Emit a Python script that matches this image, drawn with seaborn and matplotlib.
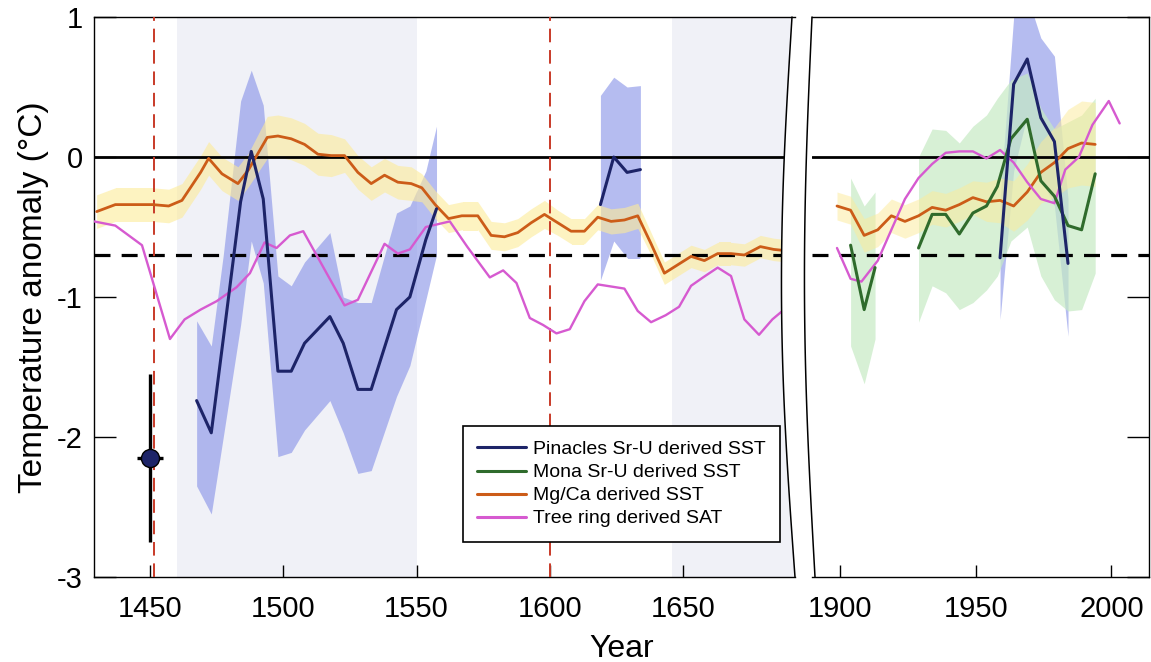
import numpy as np
import pandas as pd
import matplotlib
matplotlib.use("Agg")
import matplotlib.pyplot as plt
import seaborn as sns
from matplotlib.lines import Line2D
from matplotlib.patches import Polygon

# ---------------- data ----------------
# Pinacles Sr-U derived SST (navy) with uncertainty band
pin1_year = [1467.5, 1473, 1477.5, 1484, 1488, 1492.5, 1498, 1503, 1508, 1517.5,
             1522.5, 1528, 1533, 1542.5, 1547.5, 1553.5, 1557.5]
pin1_val = [-1.74, -1.97, -1.30, -0.32, 0.04, -0.30, -1.53, -1.53, -1.33, -1.14,
            -1.33, -1.66, -1.66, -1.09, -1.00, -0.59, -0.37]
pin1_hi = [-1.17, -1.35, -0.70, 0.40, 0.62, 0.37, -0.85, -0.92, -0.75, -0.54,
           -1.00, -1.04, -1.04, -0.40, -0.35, -0.10, 0.22]
pin1_lo = [-2.35, -2.55, -2.00, -1.20, -0.60, -0.90, -2.14, -2.11, -1.95, -1.74,
           -1.97, -2.26, -2.24, -1.71, -1.49, -1.02, -0.70]

pin2_year = [1619, 1624, 1629, 1634]
pin2_val = [-0.34, 0.00, -0.11, -0.09]
pin2_hi = [0.44, 0.57, 0.50, 0.51]
pin2_lo = [-0.88, -0.60, -0.72, -0.72]

pin3_year = [1959, 1964, 1969, 1974, 1979, 1984]
pin3_val = [-0.72, 0.52, 0.70, 0.28, 0.11, -0.76]
pin3_hi = [-0.30, 1.00, 1.15, 0.85, 0.72, -0.30]
pin3_lo = [-1.16, -0.10, 0.30, -0.15, -0.35, -1.28]

# Mona Sr-U derived SST (green)
mona1_year = [1904, 1909, 1913]
mona1_val = [-0.63, -1.09, -0.79]
mona1_hi = [-0.15, -0.35, -0.25]
mona1_lo = [-1.35, -1.62, -1.30]

mona2_year = [1929, 1934, 1939, 1944, 1949, 1954, 1958, 1963, 1969, 1974, 1979, 1984, 1989, 1994]
mona2_val = [-0.65, -0.41, -0.41, -0.55, -0.40, -0.35, -0.21, 0.13, 0.27, -0.17, -0.28, -0.49, -0.52, -0.12]
mona2_hi = [0.00, 0.20, 0.19, 0.10, 0.22, 0.30, 0.42, 0.55, 0.60, 0.35, 0.20, 0.25, 0.30, 0.42]
mona2_lo = [-1.18, -0.92, -0.97, -1.09, -1.04, -0.95, -0.85, -0.60, -0.50, -0.85, -1.02, -1.10, -1.09, -0.83]

# Mg/Ca derived SST (orange) with half-width of band
mgca1_year = [1430, 1437, 1451, 1457, 1462, 1469, 1472, 1477, 1483, 1487,
              1494, 1498, 1503, 1508, 1513, 1518, 1523, 1528, 1533, 1538,
              1543, 1548, 1552, 1557, 1562, 1567, 1573, 1578, 1583, 1588,
              1593, 1598, 1603, 1608, 1613, 1618, 1623, 1628, 1633, 1638,
              1643, 1648, 1653, 1658, 1663, 1668, 1673, 1679, 1684, 1689]
mgca1_val = [-0.39, -0.34, -0.34, -0.35, -0.31, -0.11, -0.01, -0.12, -0.19, -0.09,
             0.14, 0.15, 0.13, 0.09, 0.02, 0.01, 0.01, -0.11, -0.19, -0.13,
             -0.18, -0.19, -0.22, -0.34, -0.44, -0.42, -0.42, -0.56, -0.57, -0.54,
             -0.47, -0.41, -0.47, -0.53, -0.53, -0.43, -0.46, -0.45, -0.42, -0.62,
             -0.83, -0.77, -0.71, -0.74, -0.69, -0.69, -0.70, -0.64, -0.66, -0.67]
mgca1_err = [0.12, 0.12, 0.12, 0.12, 0.12, 0.12, 0.12, 0.12, 0.12, 0.12,
             0.15, 0.15, 0.15, 0.15, 0.15, 0.15, 0.12, 0.12, 0.12, 0.12,
             0.12, 0.12, 0.10, 0.10, 0.10, 0.10, 0.10, 0.10, 0.10, 0.10,
             0.10, 0.10, 0.09, 0.09, 0.09, 0.09, 0.09, 0.09, 0.09, 0.08,
             0.08, 0.08, 0.08, 0.08, 0.08, 0.08, 0.08, 0.08, 0.08, 0.08]

mgca2_year = [1899, 1904, 1909, 1914, 1919, 1924, 1929, 1934, 1939, 1944,
              1949, 1954, 1959, 1964, 1969, 1974, 1979, 1984, 1989, 1994]
mgca2_val = [-0.35, -0.38, -0.56, -0.52, -0.42, -0.46, -0.42, -0.36, -0.38, -0.34,
             -0.29, -0.32, -0.31, -0.35, -0.25, -0.11, -0.04, 0.06, 0.10, 0.09]
mgca2_err = [0.10, 0.10, 0.12, 0.12, 0.12, 0.12, 0.12, 0.12, 0.12, 0.12,
             0.12, 0.14, 0.16, 0.18, 0.20, 0.22, 0.25, 0.28, 0.30, 0.30]

# Tree ring derived SAT (magenta)
tree1_year = [1429, 1437, 1447, 1457.5, 1463, 1469, 1475, 1482.5, 1487.5, 1493,
              1497.5, 1502.5, 1507.5, 1523, 1528, 1538, 1543, 1547.5, 1553.5, 1562.5,
              1569, 1577.5, 1582.5, 1587.5, 1592.5, 1597.5, 1602.5, 1607.5, 1613, 1618,
              1628, 1633, 1638, 1643.5, 1648.5, 1653, 1657.5, 1663, 1668, 1673,
              1678.5, 1683.5, 1688.5]
tree1_val = [-0.46, -0.49, -0.63, -1.30, -1.16, -1.09, -1.03, -0.93, -0.83, -0.61,
             -0.65, -0.56, -0.53, -1.06, -1.02, -0.62, -0.69, -0.66, -0.50, -0.46,
             -0.64, -0.86, -0.81, -0.90, -1.15, -1.20, -1.26, -1.23, -1.03, -0.91,
             -0.94, -1.10, -1.18, -1.13, -1.07, -0.92, -0.86, -0.79, -0.85, -1.16,
             -1.27, -1.16, -1.08]
tree2_year = [1899, 1904, 1908, 1914, 1919, 1924, 1929, 1934, 1939, 1944, 1949,
              1954, 1959, 1964, 1969, 1974, 1979, 1983, 1988, 1993, 1999, 2003]
tree2_val = [-0.65, -0.87, -0.89, -0.74, -0.52, -0.30, -0.15, -0.05, 0.03, 0.04, 0.04,
             -0.01, 0.05, -0.04, -0.18, -0.30, -0.33, -0.09, 0.00, 0.23, 0.40, 0.24]

# single estimate with error bars
pt_year = [1450]
pt_val = [-2.15]
pt_yerr = [0.60]
pt_xerr = [5]

# reference levels, event years, shaded periods
zero_level = 0.0
dashed_level = -0.70
event_years = [1451.5, 1600]
shade_periods = [(1460, 1550), (1646, 1692)]

legend_labels = ["Pinacles Sr-U derived SST", "Mona Sr-U derived SST",
                 "Mg/Ca derived SST", "Tree ring derived SAT"]
left_xticks = [1450, 1500, 1550, 1600, 1650]
right_xticks = [1900, 1950, 2000]
yticks = [-3, -2, -1, 0, 1]
ytick_labels = ["-3", "-2", "-1", "0", "1"]

# ---------------- style ----------------
C_NAVY = "#1d2468"
C_GREEN = "#2f6b2c"
C_ORANGE = "#cc5c18"
C_MAGENTA = "#d65ad0"
C_RED = "#c83a28"
C_BLUEBAND = "#8893e8"
C_GREENBAND = "#c6eac4"
C_YELLOWBAND = "#fdeb98"
C_SHADE = "#f0f1f7"

sns.set_theme(style="white")
plt.rcParams['font.family'] = ['Liberation Sans', 'DejaVu Sans']
plt.rcParams['axes.edgecolor'] = 'black'
plt.rcParams['xtick.color'] = 'black'
plt.rcParams['ytick.color'] = 'black'
plt.rcParams['text.color'] = 'black'
plt.rcParams['axes.labelcolor'] = 'black'
plt.rcParams['axes.unicode_minus'] = False

W, H = 1151, 662
fig = plt.figure(figsize=(W / 100, H / 100), dpi=100)
axL = fig.add_axes([94 / W, 85 / H, 701 / W, 560 / H])
axR = fig.add_axes([812 / W, 85 / H, 337 / W, 560 / H])


def line(ax, xs, ys, color, lw, z=5):
    df = pd.DataFrame({"year": xs, "val": ys})
    sns.lineplot(data=df, x="year", y="val", ax=ax, color=color, linewidth=lw,
                 estimator=None, sort=False, zorder=z)


def band(ax, xs, lo, hi, color, alpha, z=2):
    ax.fill_between(xs, lo, hi, color=color, alpha=alpha, lw=0, zorder=z)


# ---- left panel ----
for a, b in shade_periods:
    axL.axvspan(a, b, color=C_SHADE, lw=0, zorder=0)
band(axL, pin1_year, pin1_lo, pin1_hi, C_BLUEBAND, 0.62)
band(axL, pin2_year, pin2_lo, pin2_hi, C_BLUEBAND, 0.62)
m1 = np.array(mgca1_val); e1 = np.array(mgca1_err)
band(axL, mgca1_year, m1 - e1, m1 + e1, C_YELLOWBAND, 0.6, z=2.5)
axL.axhline(zero_level, color="black", lw=2.0, zorder=3)
axL.axhline(dashed_level, color="black", lw=2.3, ls=(0, (5, 3.5)), zorder=3)
for ev in event_years:
    axL.axvline(ev, color=C_RED, lw=1.4, ls=(0, (7, 4)), zorder=4)
line(axL, mgca1_year, mgca1_val, C_ORANGE, 2.0)
line(axL, tree1_year, tree1_val, C_MAGENTA, 1.7)
line(axL, pin1_year, pin1_val, C_NAVY, 2.2, z=6)
line(axL, pin2_year, pin2_val, C_NAVY, 2.2, z=6)
axL.errorbar(pt_year, pt_val, yerr=pt_yerr, xerr=pt_xerr, fmt='o', color=C_NAVY,
             ecolor="black", elinewidth=2.4, capsize=0, markersize=13,
             markeredgecolor="black", markeredgewidth=1, zorder=7)

# ---- right panel ----
band(axR, pin3_year, pin3_lo, pin3_hi, C_BLUEBAND, 0.62)
band(axR, mona1_year, mona1_lo, mona1_hi, C_GREENBAND, 0.7, z=2.2)
band(axR, mona2_year, mona2_lo, mona2_hi, C_GREENBAND, 0.7, z=2.2)
m2 = np.array(mgca2_val); e2 = np.array(mgca2_err)
band(axR, mgca2_year, m2 - e2, m2 + e2, C_YELLOWBAND, 0.5, z=2.5)
axR.axhline(zero_level, color="black", lw=2.0, zorder=3)
axR.axhline(dashed_level, color="black", lw=2.3, ls=(0, (5, 3.5)), zorder=3)
line(axR, mgca2_year, mgca2_val, C_ORANGE, 2.0)
line(axR, tree2_year, tree2_val, C_MAGENTA, 1.7)
line(axR, mona1_year, mona1_val, C_GREEN, 2.2)
line(axR, mona2_year, mona2_val, C_GREEN, 2.2)
line(axR, pin3_year, pin3_val, C_NAVY, 2.2, z=6)

# ---- axes formatting ----
axL.set_xlim(1429, 1692)
axR.set_xlim(1889.8, 2013.8)
for ax in (axL, axR):
    ax.set_ylim(-3, 1)
    ax.set_yticks(yticks)
    ax.set_xlabel("")
    ax.set_ylabel("")
    ax.set_facecolor("white")
    for s in ax.spines.values():
        s.set_linewidth(1.0)
        s.set_color("black")

axL.set_xticks(left_xticks)
axL.set_xticklabels([str(v) for v in left_xticks])
axR.set_xticks(right_xticks)
axR.set_xticklabels([str(v) for v in right_xticks])
axL.set_yticklabels(ytick_labels)

axL.spines['right'].set_visible(False)
axR.spines['left'].set_visible(False)

axL.tick_params(axis='y', direction='in', length=16, width=1, left=True, right=False,
                labelsize=21, pad=8)
axL.tick_params(axis='x', direction='in', length=9, width=1, bottom=True, top=False,
                labelsize=21, pad=13)
axR.tick_params(axis='y', direction='in', length=16, width=1, left=False, right=True,
                labelleft=False, labelright=False)
axR.tick_params(axis='x', direction='in', length=9, width=1, bottom=True, top=False,
                labelsize=21, pad=13)

axL.set_ylabel("Temperature anomaly (°C)", fontsize=24, labelpad=6)
fig.text(621.5 / W, 5 / H, "Year", ha='center', va='baseline', fontsize=23)

# ---- axis-break curves and clipping ----
t = np.linspace(0, 1, 80)
pxL = 795 - 3 * t - 12 * np.sin(np.pi * t)
xaL = (pxL - 94) / 701
pxR = 815 - 3 * t - 9 * np.sin(np.pi * t)
xaR = (pxR - 812) / 337

clipL = Polygon([(0, 0)] + list(zip(xaL, t)) + [(0, 1)], closed=True,
                transform=axL.transAxes, facecolor='none', edgecolor='none')
clipR = Polygon(list(zip(xaR, t)) + [(1, 1), (1, 0)], closed=True,
                transform=axR.transAxes, facecolor='none', edgecolor='none')
for ax, cp in ((axL, clipL), (axR, clipR)):
    for art in list(ax.lines) + list(ax.collections) + list(ax.patches):
        art.set_clip_path(cp)

axL.plot(xaL, t, transform=axL.transAxes, color='black', lw=1.1, clip_on=False, zorder=10)
axR.plot(xaR, t, transform=axR.transAxes, color='black', lw=1.1, clip_on=False, zorder=10)

# ---- legend ----
handles = [Line2D([], [], color=c, lw=2.2) for c in (C_NAVY, C_GREEN, C_ORANGE, C_MAGENTA)]
leg = axL.legend(handles, legend_labels, loc='lower left', bbox_to_anchor=(0.526, 0.0625),
                 borderaxespad=0, fontsize=14, frameon=True, fancybox=False,
                 framealpha=1, edgecolor='black', handlelength=2.5, handletextpad=0.35,
                 labelspacing=0.28, borderpad=0.75)
leg.get_frame().set_linewidth(1.2)
leg.set_zorder(20)

fig.savefig("out.png", dpi=100)
